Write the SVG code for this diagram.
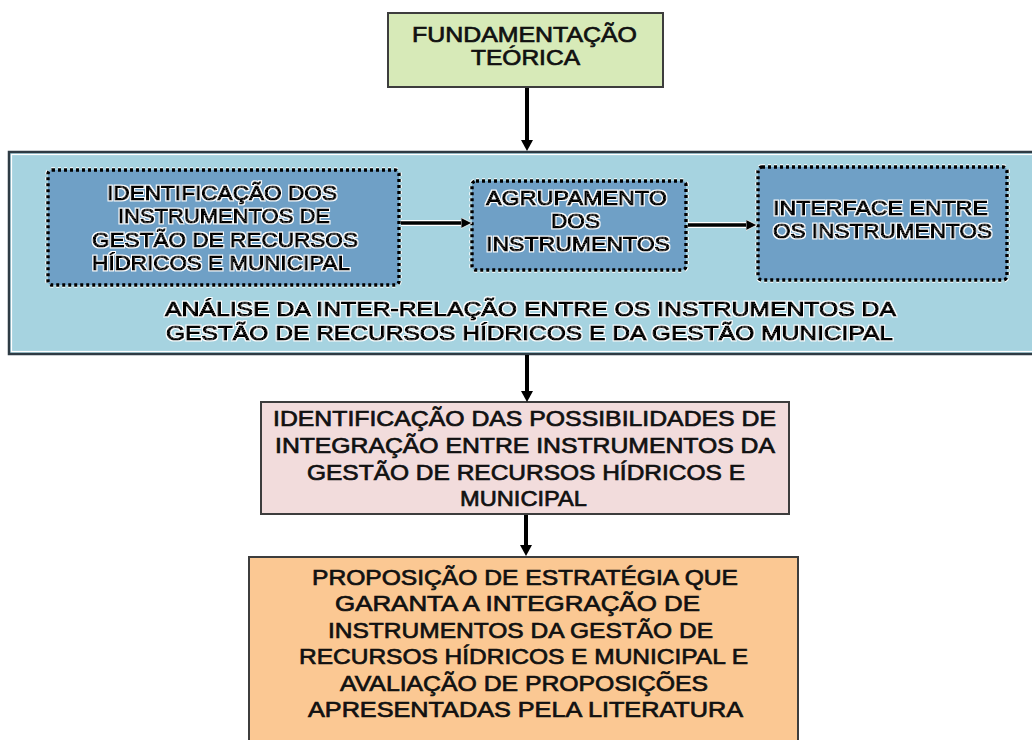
<svg xmlns="http://www.w3.org/2000/svg" width="1032" height="740" viewBox="0 0 1032 740">
<style>
text { font-family: "Liberation Sans", Arial, sans-serif; fill: #111; stroke: #111; stroke-width: 0.7px; }
.t22 { font-size: 22px; }
.t21 { font-size: 21px; }
.halo { filter: url(#glow); stroke: #000; fill: #000; stroke-width: 1.1px; }
.plain { stroke: #3d3d3d; stroke-width: 2; }
.dotbg { fill: none; stroke: #ffffff; stroke-width: 5.5; stroke-dasharray: 3 3; }
.dot { fill: #6fa0c6; stroke: #000; stroke-width: 3.4; stroke-dasharray: 3 3; }
.conn { stroke: #000; stroke-width: 4; fill: none; }
.connh { stroke: #000; stroke-width: 3.5; fill: none; }
.connbg { stroke: #fff; stroke-width: 6; fill: none; }
</style>
<defs>
<filter id="glow" x="-5%" y="-30%" width="110%" height="160%">
<feMorphology in="SourceAlpha" operator="dilate" radius="0.9" result="d"/>
<feFlood flood-color="#ffffff" result="f"/>
<feComposite in="f" in2="d" operator="in" result="w"/>
<feMerge><feMergeNode in="w"/><feMergeNode in="SourceGraphic"/></feMerge>
</filter>
<marker id="ah" markerUnits="userSpaceOnUse" viewBox="0 0 11 12" markerWidth="11" markerHeight="12" refX="5" refY="6" orient="auto">
<path d="M0,0 L11,6 L0,12 z" fill="#000"/>
</marker>
<marker id="ahs" markerUnits="userSpaceOnUse" viewBox="0 0 11 11" markerWidth="11" markerHeight="11" refX="5" refY="5.5" orient="auto">
<path d="M0,0 L11,5.5 L0,11 z" fill="#000" stroke="#fff" stroke-width="0.8"/>
</marker>
</defs>
<rect width="1032" height="740" fill="#ffffff"/>

<g id="analise">
<rect x="9" y="152" width="1030" height="202" fill="#a6d3e0" stroke="#2e3b44" stroke-width="2.5"/>
<rect x="11.5" y="154.5" width="1030" height="197" fill="none" stroke="#ffffff" stroke-width="1.2"/>
<text class="t21 halo" x="165" y="316" textLength="731" lengthAdjust="spacingAndGlyphs">ANÁLISE DA INTER-RELAÇÃO ENTRE OS INSTRUMENTOS DA</text>
<text class="t21 halo" x="166" y="340" textLength="727" lengthAdjust="spacingAndGlyphs">GESTÃO DE RECURSOS HÍDRICOS E DA GESTÃO MUNICIPAL</text>
</g>

<g id="fundamentacao">
<rect x="388" y="13" width="275" height="74" fill="#d7eab8" class="plain"/>
<text class="t22" x="412" y="42" textLength="225" lengthAdjust="spacingAndGlyphs">FUNDAMENTAÇÃO</text>
<text class="t22" x="471" y="65" textLength="109" lengthAdjust="spacingAndGlyphs">TEÓRICA</text>
</g>

<g id="identificacao-instrumentos">
<rect x="48" y="170" width="351" height="115" rx="4" class="dotbg"/>
<rect x="48" y="170" width="351" height="115" rx="4" class="dot"/>
<text class="t21 halo" x="107" y="200" textLength="230" lengthAdjust="spacingAndGlyphs">IDENTIFICAÇÃO DOS</text>
<text class="t21 halo" x="118" y="223" textLength="212" lengthAdjust="spacingAndGlyphs">INSTRUMENTOS DE</text>
<text class="t21 halo" x="92" y="247" textLength="266" lengthAdjust="spacingAndGlyphs">GESTÃO DE RECURSOS</text>
<text class="t21 halo" x="92" y="270" textLength="258" lengthAdjust="spacingAndGlyphs">HÍDRICOS E MUNICIPAL</text>
</g>

<g id="agrupamento">
<rect x="472" y="181" width="214" height="89" rx="4" class="dotbg"/>
<rect x="472" y="181" width="214" height="89" rx="4" class="dot"/>
<text class="t21 halo" x="486" y="205" textLength="181" lengthAdjust="spacingAndGlyphs">AGRUPAMENTO</text>
<text class="t21 halo" x="551" y="228" textLength="49" lengthAdjust="spacingAndGlyphs">DOS</text>
<text class="t21 halo" x="486" y="251" textLength="184" lengthAdjust="spacingAndGlyphs">INSTRUMENTOS</text>
</g>

<g id="interface">
<rect x="758" y="167" width="249" height="113" rx="4" class="dotbg"/>
<rect x="758" y="167" width="249" height="113" rx="4" class="dot"/>
<text class="t21 halo" x="773" y="215" textLength="215" lengthAdjust="spacingAndGlyphs">INTERFACE ENTRE</text>
<text class="t21 halo" x="773" y="238" textLength="219" lengthAdjust="spacingAndGlyphs">OS INSTRUMENTOS</text>
</g>

<g id="possibilidades">
<rect x="261" y="402" width="528" height="112" fill="#f2dcdc" class="plain"/>
<text class="t22" x="273" y="426" textLength="503" lengthAdjust="spacingAndGlyphs">IDENTIFICAÇÃO DAS POSSIBILIDADES DE</text>
<text class="t22" x="275" y="453" textLength="500" lengthAdjust="spacingAndGlyphs">INTEGRAÇÃO ENTRE INSTRUMENTOS DA</text>
<text class="t22" x="307" y="479.5" textLength="438" lengthAdjust="spacingAndGlyphs">GESTÃO DE RECURSOS HÍDRICOS E</text>
<text class="t22" x="460" y="506" textLength="127" lengthAdjust="spacingAndGlyphs">MUNICIPAL</text>
</g>

<g id="proposicao">
<rect x="249" y="557" width="549" height="190" fill="#fbc893" class="plain"/>
<text class="t22" x="312" y="585" textLength="426" lengthAdjust="spacingAndGlyphs">PROPOSIÇÃO DE ESTRATÉGIA QUE</text>
<text class="t22" x="335" y="611.4" textLength="365" lengthAdjust="spacingAndGlyphs">GARANTA A INTEGRAÇÃO DE</text>
<text class="t22" x="328" y="637.8" textLength="385" lengthAdjust="spacingAndGlyphs">INSTRUMENTOS DA GESTÃO DE</text>
<text class="t22" x="299" y="664.2" textLength="449" lengthAdjust="spacingAndGlyphs">RECURSOS HÍDRICOS E MUNICIPAL E</text>
<text class="t22" x="340" y="690.6" textLength="368" lengthAdjust="spacingAndGlyphs">AVALIAÇÃO DE PROPOSIÇÕES</text>
<text class="t22" x="308" y="717" textLength="435" lengthAdjust="spacingAndGlyphs">APRESENTADAS PELA LITERATURA</text>
</g>

<g id="connectors">
<line class="conn" x1="527" y1="88" x2="527" y2="145" marker-end="url(#ah)"/>
<line class="conn" x1="527" y1="355" x2="527" y2="396" marker-end="url(#ah)"/>
<line class="conn" x1="526" y1="515" x2="526" y2="550" marker-end="url(#ah)"/>
<line class="connbg" x1="401" y1="223" x2="464" y2="223"/>
<line class="connh" x1="401" y1="223" x2="466" y2="223" marker-end="url(#ahs)"/>
<line class="connbg" x1="688" y1="225" x2="749" y2="225"/>
<line class="connh" x1="688" y1="225" x2="751" y2="225" marker-end="url(#ahs)"/>
</g>
</svg>
